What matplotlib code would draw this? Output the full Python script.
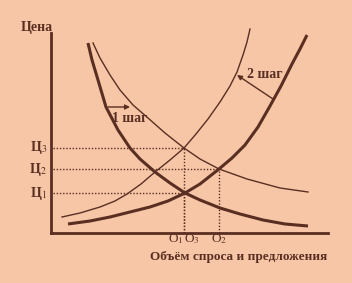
import matplotlib
matplotlib.use('Agg')
from matplotlib import pyplot as plt

plt.rcParams['font.family'] = ['Liberation Serif', 'DejaVu Serif']
plt.rcParams['mathtext.fontset'] = 'stix'

# кривые (объём, цена)
d1_x = [37, 41, 47, 55, 67, 79, 89, 104, 119, 134, 149, 169, 189, 212, 234, 257]
d1_y = [190, 173, 153, 126, 103, 85, 74, 61, 50, 40, 33, 25, 19, 13, 9, 7]
d2_x = [42, 49, 59, 69, 82, 97, 114, 133, 149, 168, 196, 229, 257]
d2_y = [190, 175, 158, 143, 128, 115, 100, 85, 74, 64, 54, 45, 41]
s1_x = [17, 39, 59, 79, 99, 117, 134, 149, 168, 181, 194, 207, 219, 230, 241, 249, 256]
s1_y = [9, 12, 16, 21, 26, 32, 40, 49, 64, 75, 88, 106, 127, 147, 169, 184, 198]
s2_x = [11, 29, 49, 64, 76, 90, 104, 119, 133, 145, 157, 169, 179, 186, 192, 196, 199]
s2_y = [16, 20, 26, 32, 39, 49, 61, 73, 85, 99, 114, 131, 147, 161, 178, 191, 204]

# равновесия
q_vals = [133, 133, 168]
p_vals = [40, 85, 64]
p_labels = ['Ц$_1$', 'Ц$_3$', 'Ц$_2$']
q_labels = ['О$_1$', 'О$_3$', 'О$_2$']
q_label_x = [125, 141, 168]

bg = '#f6c6a6'
ink = '#5a2f22'

fig = plt.figure(figsize=(3.52, 2.83), dpi=100, facecolor=bg)
ax = fig.add_axes([51 / 352, 50 / 283, 277 / 352, 210 / 283])
ax.set_facecolor(bg)
ax.set_xlim(0, 277)
ax.set_ylim(0, 210)

ax.plot(d1_x, d1_y, color=ink, lw=2.2, solid_capstyle='butt')
ax.plot(s1_x, s1_y, color=ink, lw=2.2, solid_capstyle='butt')
ax.plot(d2_x, d2_y, color=ink, lw=1.0)
ax.plot(s2_x, s2_y, color=ink, lw=1.0)

for q, p in zip(q_vals, p_vals):
    ax.plot([2, q], [p, p], color=ink, lw=1.0, ls=(0, (1, 1.3)))
    ax.plot([q, q], [0, p], color=ink, lw=1.0, ls=(0, (1, 1.3)))

for p, lab in zip(p_vals, p_labels):
    ax.text(-4, p, lab, ha='right', va='center', fontsize=10,
            fontweight='bold', color=ink, clip_on=False)
for qx, lab in zip(q_label_x, q_labels):
    ax.text(qx, -6, lab, ha='center', va='center', fontsize=9.5,
            color=ink, clip_on=False)

ax.annotate('', xy=(79, 126), xytext=(57, 126),
            arrowprops=dict(arrowstyle='-|>', color=ink, lw=1.0,
                            mutation_scale=7, shrinkA=0, shrinkB=0))
ax.text(79, 115, '1 шаг', ha='center', va='center', fontsize=10,
        fontweight='bold', color=ink)
ax.annotate('', xy=(186, 158), xytext=(222, 134),
            arrowprops=dict(arrowstyle='-|>', color=ink, lw=1.0,
                            mutation_scale=7, shrinkA=0, shrinkB=0))
ax.text(214, 159, '2 шаг', ha='center', va='center', fontsize=10,
        fontweight='bold', color=ink)

ax.text(-14, 206, 'Цена', ha='center', va='center', fontsize=10,
        fontweight='bold', color=ink, clip_on=False)
ax.text(188, -24, 'Объём спроса и предложения', ha='center', va='center',
        fontsize=9.5, fontweight='bold', color=ink, clip_on=False)

for side in ['top', 'right']:
    ax.spines[side].set_visible(False)
ax.spines['left'].set_bounds(0, 200)
ax.spines['left'].set_color(ink)
ax.spines['bottom'].set_color(ink)
ax.spines['left'].set_linewidth(2.0)
ax.spines['bottom'].set_linewidth(2.0)
ax.set_xticks([])
ax.set_yticks([])

fig.savefig('out.png', dpi=100, facecolor=bg)
